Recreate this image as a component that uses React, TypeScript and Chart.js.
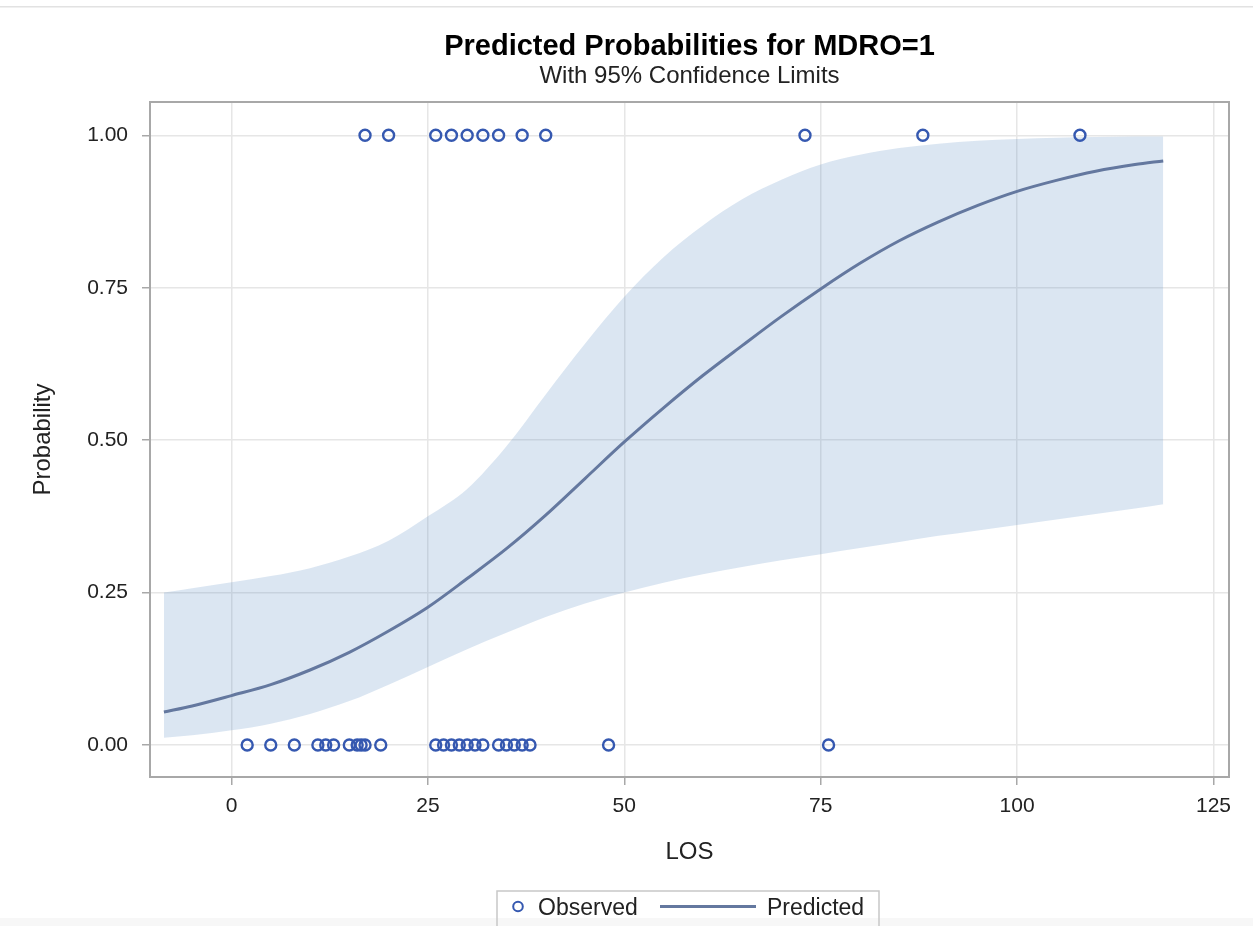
import React, { useEffect, useRef } from "react";
import { Chart, registerables } from "chart.js";

Chart.register(...registerables);

// ---- Data ----
const losGrid = [-8.6, -5, 0, 5, 10, 15, 20, 25, 30, 35, 40, 45, 50, 55, 60, 65, 70, 75, 80, 85, 90, 95, 100, 105, 110, 115, 118.6];
const predicted = [0.054, 0.064, 0.081, 0.099, 0.123, 0.152, 0.187, 0.226, 0.273, 0.322, 0.377, 0.437, 0.497, 0.553, 0.606, 0.655, 0.703, 0.748, 0.79, 0.827, 0.858, 0.885, 0.908, 0.926, 0.941, 0.952, 0.958];
const upperCL = [0.25, 0.257, 0.267, 0.277, 0.29, 0.309, 0.335, 0.375, 0.42, 0.49, 0.575, 0.658, 0.735, 0.8, 0.852, 0.895, 0.927, 0.952, 0.968, 0.979, 0.986, 0.991, 0.994, 0.996, 0.997, 0.998, 0.998];
const lowerCL = [0.012, 0.016, 0.024, 0.035, 0.051, 0.072, 0.099, 0.128, 0.157, 0.184, 0.21, 0.232, 0.25, 0.266, 0.28, 0.292, 0.303, 0.313, 0.323, 0.333, 0.343, 0.352, 0.361, 0.37, 0.379, 0.388, 0.395];

const observedLOS1 = [17, 20, 26, 28, 30, 32, 34, 37, 40, 73, 88, 108];
const observedLOS0 = [2, 5, 8, 11, 12, 13, 15, 16, 16.5, 17, 19, 26, 27, 28, 29, 30, 31, 32, 34, 35, 36, 37, 38, 48, 76];

const xTicks = [0, 25, 50, 75, 100, 125];
const yTicks = [0, 0.25, 0.5, 0.75, 1];
const yTickLabels = ["0.00", "0.25", "0.50", "0.75", "1.00"];

const titleText = "Predicted Probabilities for MDRO=1";
const subtitleText = "With 95% Confidence Limits";
const xTitle = "LOS";
const yTitle = "Probability";
const legendObserved = "Observed";
const legendPredicted = "Predicted";

const FONT = '"Liberation Sans", Arial, Helvetica, sans-serif';
const MARKER = "#3558b0";
const LINE = "#64789f";
const BAND = "rgba(100,145,200,0.23)";

const decorPlugin = {
  id: "decor",
  afterDraw(chart: any) {
    const ctx = chart.ctx as CanvasRenderingContext2D;
    const a = chart.chartArea;
    ctx.save();
    // top screenshot line
    ctx.fillStyle = "#e2e2e2";
    ctx.fillRect(0, 6, chart.width, 1.5);
    // bottom strip
    ctx.fillStyle = "#f7f7f7";
    ctx.fillRect(0, 918, chart.width, chart.height - 918);
    // frame
    ctx.strokeStyle = "#a8a8a8";
    ctx.lineWidth = 2;
    ctx.strokeRect(a.left, a.top, a.right - a.left, a.bottom - a.top);
    // titles
    const cx = (a.left + a.right) / 2;
    ctx.fillStyle = "#000";
    ctx.textAlign = "center";
    ctx.textBaseline = "alphabetic";
    ctx.font = `bold 29px ${FONT}`;
    ctx.fillText(titleText, cx, 55);
    ctx.fillStyle = "#222";
    ctx.font = `24px ${FONT}`;
    ctx.fillText(subtitleText, cx, 83);
    // legend
    ctx.strokeStyle = "#c8c8c8";
    ctx.lineWidth = 1.5;
    ctx.beginPath();
    ctx.moveTo(497, 926);
    ctx.lineTo(497, 891);
    ctx.lineTo(879, 891);
    ctx.lineTo(879, 926);
    ctx.stroke();
    ctx.strokeStyle = MARKER;
    ctx.lineWidth = 2;
    ctx.beginPath();
    ctx.arc(518, 906.5, 4.8, 0, Math.PI * 2);
    ctx.stroke();
    ctx.fillStyle = "#222";
    ctx.textAlign = "left";
    ctx.font = `23px ${FONT}`;
    ctx.fillText(legendObserved, 538, 915);
    ctx.strokeStyle = LINE;
    ctx.lineWidth = 3;
    ctx.beginPath();
    ctx.moveTo(660, 906.5);
    ctx.lineTo(756, 906.5);
    ctx.stroke();
    ctx.fillText(legendPredicted, 767, 915);
    ctx.restore();
  },
};

export default function App() {
  const ref = useRef<HTMLCanvasElement | null>(null);
  useEffect(() => {
    document.body.style.margin = "0";
    const canvas = ref.current;
    if (!canvas) return;
    const pts = (xs: number[], ys: number[]) => xs.map((x, i) => ({ x, y: ys[i] }));
    const chart = new Chart(canvas, {
      type: "line",
      data: {
        datasets: [
          {
            type: "scatter",
            label: "Observed1",
            data: observedLOS1.map((x) => ({ x, y: 1 })),
            pointRadius: 5.5,
            pointBorderWidth: 2.4,
            pointBorderColor: MARKER,
            pointBackgroundColor: "rgba(0,0,0,0)",
            showLine: false,
          } as any,
          {
            type: "scatter",
            label: "Observed0",
            data: observedLOS0.map((x) => ({ x, y: 0 })),
            pointRadius: 5.5,
            pointBorderWidth: 2.4,
            pointBorderColor: MARKER,
            pointBackgroundColor: "rgba(0,0,0,0)",
            showLine: false,
          } as any,
          {
            label: "Predicted",
            data: pts(losGrid, predicted),
            borderColor: LINE,
            borderWidth: 3,
            pointRadius: 0,
            fill: false,
            cubicInterpolationMode: "monotone",
          },
          {
            label: "Upper",
            data: pts(losGrid, upperCL),
            borderWidth: 0,
            borderColor: "rgba(0,0,0,0)",
            backgroundColor: BAND,
            pointRadius: 0,
            fill: "+1",
            cubicInterpolationMode: "monotone",
          },
          {
            label: "Lower",
            data: pts(losGrid, lowerCL),
            borderWidth: 0,
            borderColor: "rgba(0,0,0,0)",
            pointRadius: 0,
            fill: false,
            cubicInterpolationMode: "monotone",
          },
        ],
      },
      options: {
        animation: false,
        responsive: false,
        devicePixelRatio: 1,
        layout: { padding: { top: 102, right: 24, left: 0, bottom: 0 } },
        plugins: {
          legend: { display: false },
          title: { display: false },
          tooltip: { enabled: false },
        },
        scales: {
          x: {
            type: "linear",
            min: -10.37,
            max: 126.97,
            afterBuildTicks: (s: any) => {
              s.ticks = xTicks.map((v) => ({ value: v }));
            },
            afterFit: (s: any) => {
              s.height = 149;
            },
            ticks: {
              font: { size: 21, family: FONT },
              color: "#222",
              padding: 9,
              maxRotation: 0,
              callback: (v: any) => String(v),
            },
            grid: {
              color: "#e6e6e6",
              lineWidth: 1.5,
              tickLength: 8,
              tickColor: "#a8a8a8",
              tickWidth: 1.5,
            },
            border: { display: false },
            title: {
              display: true,
              text: xTitle,
              font: { size: 24, family: FONT },
              color: "#222",
              padding: { top: 0, bottom: 59 },
            },
          },
          y: {
            type: "linear",
            min: -0.0525,
            max: 1.0546,
            afterBuildTicks: (s: any) => {
              s.ticks = yTicks.map((v) => ({ value: v }));
            },
            afterFit: (s: any) => {
              s.width = 150;
            },
            ticks: {
              font: { size: 21, family: FONT },
              color: "#222",
              padding: 14,
              callback: (v: any) => yTickLabels[yTicks.indexOf(v)],
            },
            grid: {
              color: "#e6e6e6",
              lineWidth: 1.5,
              tickLength: 8,
              tickColor: "#a8a8a8",
              tickWidth: 1.5,
            },
            border: { display: false },
            title: {
              display: true,
              text: yTitle,
              font: { size: 24, family: FONT },
              color: "#222",
              padding: { top: 29, bottom: 0 },
            },
          },
        },
      },
      plugins: [decorPlugin],
    });
    return () => chart.destroy();
  }, []);
  return (
    <div style={{ width: 1253, height: 926, background: "#fff" }}>
      <canvas ref={ref} width={1253} height={926} style={{ display: "block" }} />
    </div>
  );
}
